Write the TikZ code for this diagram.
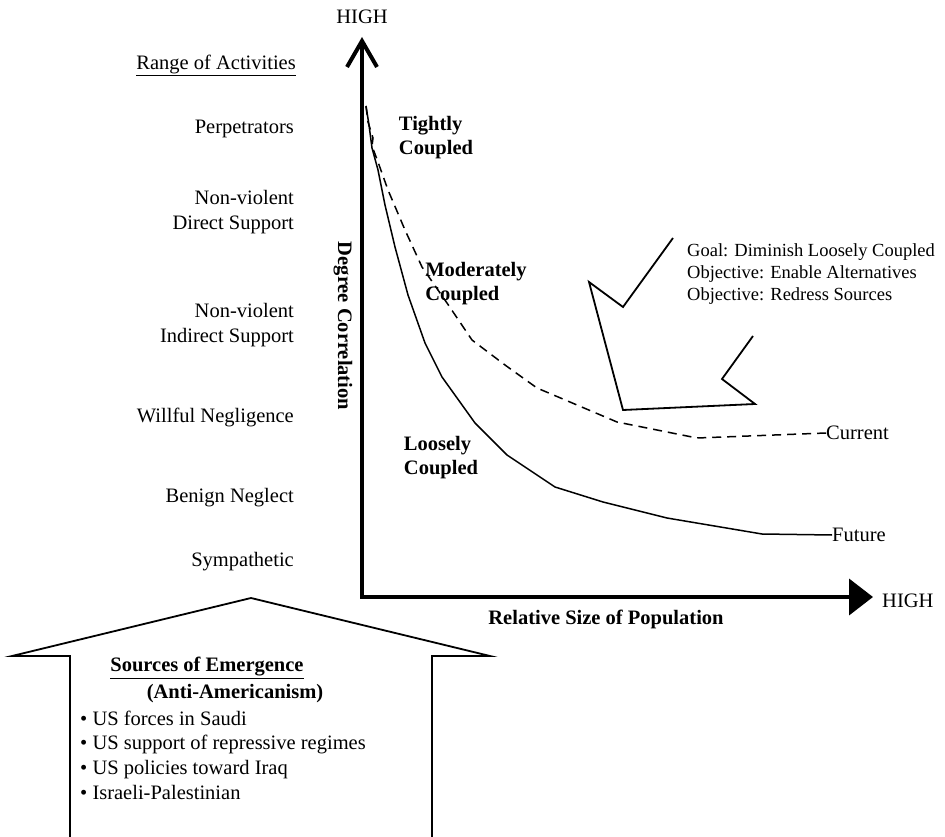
\documentclass[tikz,border=0pt]{standalone}
\usepackage{fontspec}
\setmainfont{Liberation Serif}
\usetikzlibrary{arrows.meta}

\begin{document}
\begin{tikzpicture}[
    x=1pt, y=-1pt,
    lbl/.style={font=\fontsize{20.5}{25}\selectfont, align=right, anchor=east, inner sep=0pt},
    zone/.style={font=\fontsize{20.5}{24}\selectfont\bfseries, align=left, inner sep=0pt},
    txt/.style={font=\fontsize{20.5}{24.7}\selectfont, inner sep=0pt},
    axis/.style={line width=4pt, line join=miter},
    curve/.style={line width=1.5pt},
    outline/.style={line width=1.8pt, line join=miter}
]
    \useasboundingbox (0,0) rectangle (945,837);

    % axes
    \coordinate (orig) at (362,597);
    \coordinate (ytop) at (362,37);
    \coordinate (xend) at (873,597);
    \draw[axis, {Straight Barb[length=26pt,width=30pt]}-{Triangle[length=24pt,width=36pt]}] (ytop) -- (orig) -- (xend);
    \node[txt] (yhigh) at (362,17) {HIGH};
    \node[txt, anchor=west] (xhigh) at (882,601) {HIGH};
    \node[zone, rotate=-90] (ylab) at (343,326) {Degree Correlation};
    \node[zone] (xlab) at (606,619) {Relative Size of Population};

    % range of activities
    \node[lbl] (range) at (296,65) {\underline{Range of Activities}};
    \node[lbl] (perp) at (294,129) {Perpetrators};
    \node[lbl] (direct) at (294,212) {Non-violent\\Direct Support};
    \node[lbl] (indirect) at (294,325) {Non-violent\\Indirect Support};
    \node[lbl] (willful) at (294,417) {Willful Negligence};
    \node[lbl] (benign) at (294,498) {Benign Neglect};
    \node[lbl] (symp) at (294,562) {Sympathetic};

    % coupling zones
    \node[zone] (tight) at (436,138) {Tightly\\Coupled};
    \node[zone] (moder) at (476,284) {Moderately\\Coupled};
    \node[zone] (loose) at (441,458) {Loosely\\Coupled};

    % curves
    \node[txt, anchor=west] (cur) at (826,433) {Current};
    \node[txt, anchor=west] (fut) at (832,535) {Future};
    \draw[curve] (366,106) -- (369,125) -- (372,148) -- (378,170) -- (385,205) -- (395,247)
        -- (408,295) -- (425,343) -- (442,377) -- (475,423) -- (507,455) -- (555,487)
        -- (603,502) -- (667,518) -- (762,534) -- (fut.west);
    \draw[curve, dash pattern=on 9pt off 6pt] (366,106) -- (368,122) -- (373,138) -- (372,146)
        -- (378,162) -- (388,190) -- (405,230) -- (422,267) -- (447,303) -- (472,340)
        -- (505,365) -- (537,388) -- (577,405) -- (617,422) -- (697,438) -- (cur.west);

    % goal arrow
    \draw[outline] (673,238) -- (623,307) -- (589,282) -- (623,410) -- (755,404) -- (722,379) -- (753,336);
    \node[font=\fontsize{18.5}{22}\selectfont, align=left, anchor=west, inner sep=0pt] (goal) at (687,274)
        {Goal: Diminish Loosely Coupled\\Objective: Enable Alternatives\\Objective: Redress Sources};

    % sources of emergence
    \draw[outline] (70,840) -- (70,656) -- (12,656) -- (251,598) -- (490,656) -- (432,656) -- (432,840);
    \node[txt, font=\fontsize{20.5}{24}\selectfont\bfseries] (src) at (207,668) {\underline{Sources of Emergence}};
    \node[txt, font=\fontsize{20.5}{24}\selectfont\bfseries] (anti) at (235,694) {(Anti-Americanism)};
    \node[txt, align=left, anchor=west] (items) at (80,755)
        {• US forces in Saudi\\• US support of repressive regimes\\• US policies toward Iraq\\• Israeli-Palestinian};
\end{tikzpicture}
\end{document}
